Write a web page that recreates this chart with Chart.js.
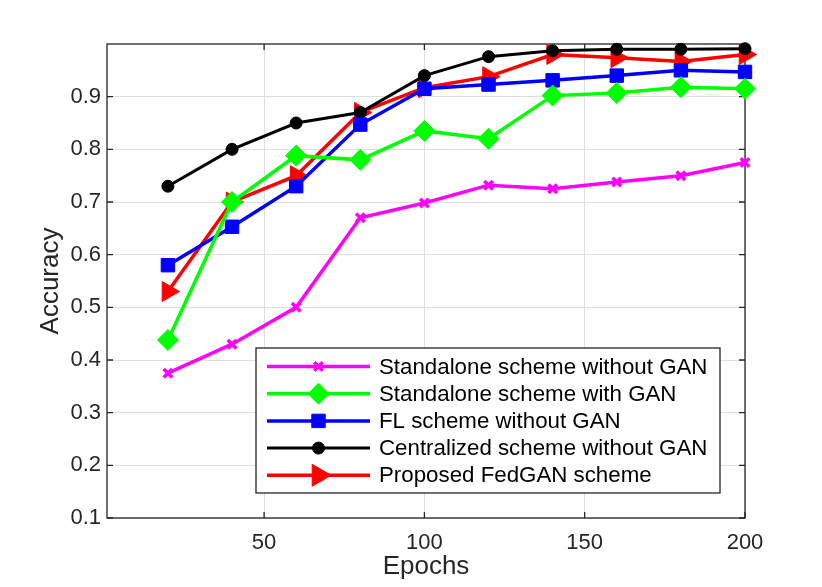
<!DOCTYPE html>
<html><head><meta charset="utf-8">
<script src="https://cdn.jsdelivr.net/npm/chart.js@4.4.1/dist/chart.umd.min.js"></script>
<style>html,body{margin:0;padding:0;background:#fff;}#wrap{width:822px;height:587px;position:relative}</style>
</head><body><div id="wrap"><canvas id="c"></canvas></div>
<script>
const epochs = [20, 40, 60, 80, 100, 120, 140, 160, 180, 200];
const standaloneNoGan = [0.375, 0.43, 0.50, 0.67, 0.698, 0.732, 0.725, 0.738, 0.75, 0.775];
const standaloneGan   = [0.438, 0.70, 0.788, 0.78, 0.835, 0.82, 0.902, 0.907, 0.918, 0.915];
const flNoGan         = [0.58, 0.653, 0.73, 0.847, 0.915, 0.923, 0.931, 0.94, 0.95, 0.947];
const centralized     = [0.73, 0.80, 0.85, 0.87, 0.94, 0.976, 0.987, 0.99, 0.99, 0.991];
const fedGan          = [0.53, 0.70, 0.75, 0.87, 0.917, 0.938, 0.98, 0.974, 0.967, 0.98];
const seriesNames = ['Standalone scheme without GAN', 'Standalone scheme with GAN', 'FL scheme without GAN', 'Centralized scheme without GAN', 'Proposed FedGAN scheme'];
const xTicks = [50, 100, 150, 200];
const yTicks = [0.1, 0.2, 0.3, 0.4, 0.5, 0.6, 0.7, 0.8, 0.9];
const xTitle = 'Epochs';
const yTitle = 'Accuracy';

const FONT = '"Liberation Sans", Arial, Helvetica, sans-serif';
const AXC = '#262626';

const styles = [
  {color:'#ff00ff', pointStyle:'crossRot', radius:6, bw:3.5, pbw:3.5, rot:0},
  {color:'#00ff00', pointStyle:'rectRot', radius:10.5, bw:3.5, pbw:1, rot:0},
  {color:'#0000ff', pointStyle:'rect', radius:9.5, bw:3.5, pbw:1, rot:0},
  {color:'#000000', pointStyle:'circle', radius:6, bw:3, pbw:1, rot:0},
  {color:'#ff0000', pointStyle:'triangle', radius:11.5, bw:3.5, pbw:1, rot:90}
];
const seriesValues = [standaloneNoGan, standaloneGan, flNoGan, centralized, fedGan];

const datasets = seriesValues.map((vals, i) => ({
  label: seriesNames[i],
  data: epochs.map((e, j) => ({x: e, y: vals[j]})),
  borderColor: styles[i].color,
  backgroundColor: styles[i].color,
  borderWidth: styles[i].bw,
  pointStyle: styles[i].pointStyle,
  pointRadius: styles[i].radius,
  pointBorderWidth: styles[i].pbw,
  pointRotation: styles[i].rot,
  pointBackgroundColor: styles[i].color,
  pointBorderColor: styles[i].color,
  tension: 0,
  clip: false
}));

function drawMarker(ctx, st, x, y, scale) {
  const r = st.radius * (scale || 1);
  ctx.save();
  ctx.fillStyle = st.color; ctx.strokeStyle = st.color; ctx.lineWidth = st.pbw;
  ctx.beginPath();
  if (st.pointStyle === 'crossRot') {
    const d = r * Math.SQRT1_2;
    ctx.moveTo(x - d, y - d); ctx.lineTo(x + d, y + d);
    ctx.moveTo(x - d, y + d); ctx.lineTo(x + d, y - d);
    ctx.stroke();
  } else if (st.pointStyle === 'rectRot') {
    ctx.moveTo(x - r, y); ctx.lineTo(x, y - r); ctx.lineTo(x + r, y); ctx.lineTo(x, y + r); ctx.closePath();
    ctx.fill(); ctx.stroke();
  } else if (st.pointStyle === 'rect') {
    const d = r * Math.SQRT1_2;
    ctx.rect(x - d, y - d, 2 * d, 2 * d); ctx.fill(); ctx.stroke();
  } else if (st.pointStyle === 'circle') {
    ctx.arc(x, y, r, 0, Math.PI * 2); ctx.fill(); ctx.stroke();
  } else if (st.pointStyle === 'triangle') {
    let a = st.rot * Math.PI / 180;
    for (let k = 0; k < 3; k++) {
      const px = x + Math.sin(a) * r, py = y - Math.cos(a) * r;
      if (k === 0) ctx.moveTo(px, py); else ctx.lineTo(px, py);
      a += 2 * Math.PI / 3;
    }
    ctx.closePath(); ctx.fill(); ctx.stroke();
  }
  ctx.restore();
}

const axesBox = {
  id: 'axesBox',
  beforeDatasetsDraw(chart) {
    const {ctx, chartArea: ca, scales: {x, y}} = chart;
    ctx.save();
    ctx.strokeStyle = AXC; ctx.lineWidth = 1.3;
    ctx.strokeRect(ca.left, ca.top, ca.right - ca.left, ca.bottom - ca.top);
    const t = 6;
    ctx.beginPath();
    xTicks.forEach(v => {
      const px = x.getPixelForValue(v);
      ctx.moveTo(px, ca.bottom); ctx.lineTo(px, ca.bottom - t);
      ctx.moveTo(px, ca.top); ctx.lineTo(px, ca.top + t);
    });
    yTicks.forEach(v => {
      const py = y.getPixelForValue(v);
      ctx.moveTo(ca.left, py); ctx.lineTo(ca.left + t, py);
      ctx.moveTo(ca.right, py); ctx.lineTo(ca.right - t, py);
    });
    ctx.stroke();
    ctx.restore();
  }
};

const boxLegend = {
  id: 'boxLegend',
  afterDraw(chart) {
    const {ctx, chartArea: ca} = chart;
    const L = ca.left + 149, T = ca.top + 304, W = 464, H = 145;
    ctx.save();
    ctx.fillStyle = '#fff';
    ctx.fillRect(L, T, W, H);
    ctx.strokeStyle = AXC; ctx.lineWidth = 1.3;
    ctx.strokeRect(L, T, W, H);
    const rowH = 27.2, y0 = T + 18.5;
    ctx.font = '22.3px ' + FONT;
    ctx.textBaseline = 'middle';
    seriesNames.forEach((name, i) => {
      const st = styles[i];
      const yy = y0 + i * rowH;
      ctx.strokeStyle = st.color; ctx.lineWidth = st.bw;
      ctx.beginPath(); ctx.moveTo(L + 11, yy); ctx.lineTo(L + 114, yy); ctx.stroke();
      drawMarker(ctx, st, L + 62.5, yy, i === 4 ? 1.1 : 1);
      ctx.fillStyle = '#000';
      ctx.fillText(name, L + 123, yy + 1);
    });
    ctx.restore();
  }
};

new Chart(document.getElementById('c'), {
  type: 'line',
  data: {datasets},
  options: {
    responsive: true, maintainAspectRatio: false, animation: false,
    layout: {padding: {top: 44, right: 77, left: 0, bottom: 0}},
    plugins: {legend: {display: false}, tooltip: {enabled: false}},
    scales: {
      x: {
        type: 'linear', min: 1, max: 200,
        afterBuildTicks: s => { s.ticks = xTicks.map(v => ({value: v})); },
        afterFit: s => { s.height = 69; },
        grid: {color: '#dfdfdf', lineWidth: 1, drawTicks: false},
        border: {display: false},
        ticks: {font: {family: FONT, size: 22}, color: AXC, padding: 12, maxRotation: 0, autoSkip: false},
        title: {display: true, text: xTitle, font: {family: FONT, size: 26}, color: AXC, padding: {top: 0, bottom: 5}}
      },
      y: {
        type: 'linear', min: 0.1, max: 1.0,
        afterBuildTicks: s => { s.ticks = yTicks.map(v => ({value: v})); },
        afterFit: s => { s.width = 107; },
        grid: {color: '#dfdfdf', lineWidth: 1, drawTicks: false},
        border: {display: false},
        ticks: {font: {family: FONT, size: 22}, color: AXC, padding: 6, callback: v => v.toFixed(1)},
        title: {display: true, text: yTitle, font: {family: FONT, size: 26}, color: AXC, padding: {top: 35, bottom: 0}}
      }
    }
  },
  plugins: [axesBox, boxLegend]
});
</script>
</body></html>
